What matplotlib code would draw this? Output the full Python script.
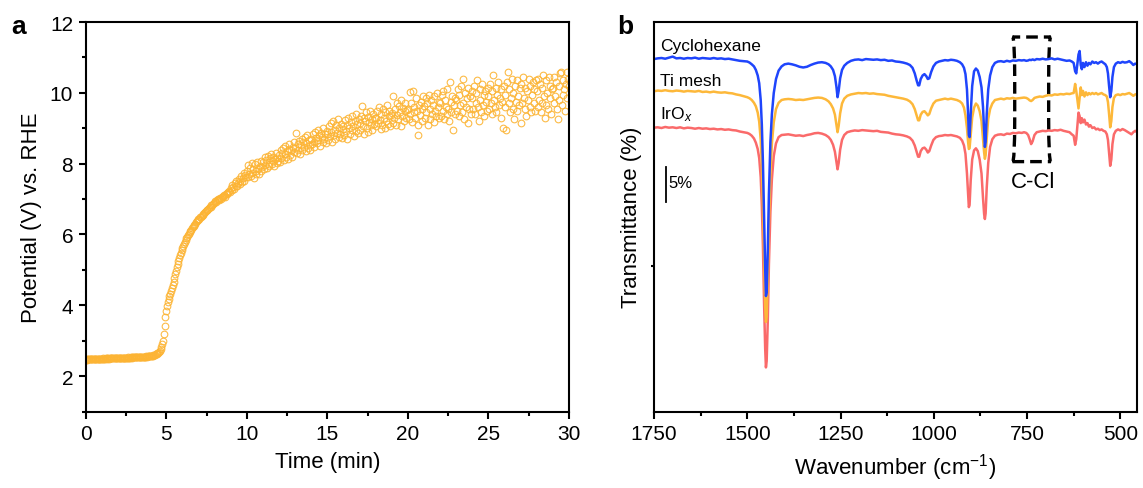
import matplotlib
matplotlib.use("Agg")
import matplotlib.pyplot as plt
import numpy as np
from matplotlib.patches import FancyBboxPatch

plt.rcParams["font.family"] = ["Liberation Sans", "DejaVu Sans"]
plt.rcParams["mathtext.fontset"] = "custom"
plt.rcParams["mathtext.rm"] = "Liberation Sans"
plt.rcParams["mathtext.it"] = "Liberation Sans:italic"

# ---- panel a: potential vs time, one row per minute (0.05 min sampling) ----
time_step_min = 0.05
potential_v = [
    2.46, 2.47, 2.46, 2.48, 2.47, 2.47, 2.48, 2.47, 2.48, 2.48, 2.47, 2.48, 2.49, 2.48, 2.48, 2.49, 2.48, 2.49, 2.49, 2.48,
    2.49, 2.49, 2.50, 2.49, 2.49, 2.50, 2.49, 2.50, 2.50, 2.49, 2.50, 2.50, 2.51, 2.50, 2.50, 2.51, 2.50, 2.51, 2.51, 2.50,
    2.51, 2.51, 2.52, 2.51, 2.51, 2.52, 2.51, 2.52, 2.52, 2.51, 2.52, 2.52, 2.52, 2.53, 2.52, 2.52, 2.53, 2.52, 2.53, 2.53,
    2.53, 2.53, 2.54, 2.53, 2.54, 2.54, 2.53, 2.54, 2.54, 2.55, 2.54, 2.55, 2.55, 2.54, 2.55, 2.56, 2.55, 2.56, 2.56, 2.57,
    2.57, 2.57, 2.58, 2.58, 2.59, 2.60, 2.61, 2.62, 2.63, 2.64, 2.66, 2.68, 2.72, 2.77, 2.83, 2.90, 3.00, 3.18, 3.42, 3.66,
    3.85, 3.98, 4.08, 4.17, 4.25, 4.33, 4.41, 4.49, 4.58, 4.67, 4.77, 4.87, 4.97, 5.07, 5.16, 5.25, 5.33, 5.41, 5.48, 5.55,
    5.62, 5.68, 5.74, 5.79, 5.84, 5.89, 5.94, 5.98, 6.02, 6.06, 6.10, 6.14, 6.18, 6.21, 6.25, 6.28, 6.31, 6.34, 6.37, 6.40,
    6.43, 6.45, 6.48, 6.50, 6.53, 6.56, 6.58, 6.61, 6.63, 6.66, 6.68, 6.70, 6.73, 6.75, 6.77, 6.79, 6.82, 6.84, 6.86, 6.88,
    6.92, 6.95, 6.93, 6.97, 6.99, 6.96, 7.01, 7.03, 7.00, 7.06, 7.05, 7.09, 7.12, 7.07, 7.15, 7.17, 7.13, 7.21, 7.24, 7.19,
    7.32, 7.25, 7.40, 7.33, 7.28, 7.46, 7.38, 7.52, 7.36, 7.45, 7.58, 7.42, 7.50, 7.66, 7.47, 7.60, 7.74, 7.52, 7.68, 7.62,
    7.80, 7.62, 7.95, 7.70, 7.88, 7.66, 8.02, 7.75, 7.84, 7.60, 7.98, 7.78, 7.70, 8.05, 7.85, 7.72, 7.94, 8.08, 7.80, 7.90,
    8.05, 7.85, 8.18, 7.95, 8.10, 7.88, 8.22, 8.00, 7.92, 8.15, 8.28, 7.98, 8.08, 8.20, 7.94, 8.12, 8.30, 8.02, 8.16, 8.08,
    8.25, 8.05, 8.38, 8.15, 8.30, 8.45, 8.10, 8.28, 8.50, 8.20, 8.35, 8.12, 8.42, 8.55, 8.25, 8.38, 8.18, 8.48, 8.32, 8.60,
    8.45, 8.88, 8.30, 8.55, 8.40, 8.65, 8.28, 8.52, 8.70, 8.38, 8.60, 8.48, 8.75, 8.35, 8.58, 8.80, 8.45, 8.66, 8.52, 8.40,
    8.70, 8.55, 8.85, 8.62, 8.48, 8.90, 8.72, 8.58, 8.95, 8.66, 8.80, 8.50, 8.88, 8.75, 8.62, 9.00, 8.70, 8.84, 8.58, 8.92,
    8.85, 8.68, 9.05, 8.78, 9.15, 8.90, 8.62, 9.20, 8.82, 8.95, 8.70, 9.10, 8.88, 9.25, 8.75, 9.02, 8.85, 9.12, 8.72, 8.98,
    9.05, 8.80, 9.22, 8.92, 9.10, 8.70, 9.30, 9.00, 8.85, 9.18, 8.95, 9.35, 9.05, 8.78, 9.20, 9.40, 8.92, 9.12, 8.88, 9.25,
    9.15, 8.95, 9.35, 9.62, 9.05, 9.28, 8.85, 9.20, 9.45, 9.00, 9.32, 8.90, 9.18, 9.50, 9.08, 9.25, 8.95, 9.40, 9.12, 9.30,
    9.30, 9.05, 9.48, 9.15, 9.60, 9.22, 8.98, 9.40, 9.10, 9.55, 9.28, 9.00, 9.45, 9.20, 9.65, 9.12, 9.35, 9.50, 9.05, 9.38,
    9.42, 9.15, 9.90, 9.30, 9.55, 9.10, 9.70, 9.38, 9.25, 9.62, 9.45, 9.05, 9.80, 9.35, 9.58, 9.20, 9.48, 9.72, 9.30, 9.52,
    9.55, 9.25, 10.02, 9.40, 9.70, 9.18, 10.05, 9.45, 9.60, 9.30, 9.85, 9.50, 9.08, 8.80, 9.65, 9.38, 9.75, 9.20, 9.55, 9.90,
    9.62, 9.30, 9.85, 9.45, 9.72, 9.10, 9.95, 9.55, 9.25, 9.80, 9.40, 9.65, 9.18, 9.90, 9.50, 9.35, 10.00, 9.60, 9.28, 9.75,
    9.70, 9.35, 9.95, 9.50, 10.05, 9.25, 9.80, 9.60, 9.40, 10.10, 9.55, 9.20, 10.30, 9.75, 9.45, 9.90, 8.95, 9.65, 9.85, 9.40,
    9.80, 9.50, 10.10, 9.35, 9.95, 9.65, 10.20, 9.45, 10.40, 9.70, 9.25, 10.00, 9.60, 9.85, 9.15, 10.15, 9.55, 9.90, 9.40, 10.05,
    9.85, 9.55, 10.20, 9.40, 10.00, 9.70, 10.35, 9.60, 9.20, 10.10, 9.80, 9.45, 10.25, 9.65, 9.95, 9.35, 10.05, 9.75, 9.50, 10.15,
    9.90, 9.55, 10.25, 9.70, 10.05, 9.40, 10.50, 9.80, 9.60, 10.15, 9.45, 9.95, 10.30, 9.65, 9.85, 9.30, 10.10, 9.75, 9.00, 10.20,
    9.95, 9.60, 8.95, 10.30, 10.60, 9.70, 10.10, 9.45, 9.85, 10.40, 9.55, 10.00, 9.25, 10.20, 9.75, 9.50, 10.35, 9.90, 9.65, 10.15,
    9.15, 10.25, 9.70, 10.45, 9.85, 9.55, 10.15, 9.35, 10.05, 9.80, 10.40, 9.60, 10.20, 9.45, 9.95, 10.30, 9.70, 10.10, 9.50, 10.35,
    10.05, 9.60, 10.40, 9.80, 10.25, 9.45, 10.15, 9.70, 10.50, 9.90, 9.30, 10.35, 9.65, 10.00, 9.55, 10.45, 9.85, 10.20, 9.40, 10.10,
    10.15, 9.70, 10.45, 9.90, 10.30, 9.55, 9.25, 10.20, 9.80, 10.55, 10.60, 9.65, 10.35, 9.95, 10.10, 9.50, 10.25, 10.58, 9.85, 10.40,
    10.20,
]
time_min = np.arange(len(potential_v)) * time_step_min

# ---- panel b: FTIR spectra on a shared wavenumber grid ----
wavenumber = [
    1750, 1740, 1730, 1720, 1710, 1700, 1690, 1680, 1670, 1660, 1650, 1640, 1630,
    1620, 1610, 1600, 1590, 1580, 1570, 1560, 1550, 1540, 1530, 1520, 1510, 1500,
    1494, 1488, 1482, 1477, 1472, 1468, 1464, 1461, 1458, 1455, 1452, 1450, 1448,
    1445, 1442, 1438, 1434, 1429, 1423, 1416, 1408, 1400,
    1390, 1380, 1370, 1360, 1350, 1340, 1330, 1320, 1310, 1300, 1290, 1282,
    1276, 1270, 1265, 1261, 1258, 1255, 1251, 1246, 1240, 1232,
    1222, 1212, 1202, 1192, 1182, 1172, 1162, 1152, 1142, 1132, 1122, 1112, 1102, 1092, 1082, 1072,
    1064, 1057, 1051, 1046, 1042, 1039, 1035, 1030, 1025, 1020, 1016, 1012, 1007, 1001, 994, 986,
    978, 970, 962, 954, 946, 938, 930,
    924, 919, 915, 911, 908, 906, 904, 901, 897, 892, 887, 882, 877, 872, 868, 865, 863, 861, 858, 854, 849, 843, 836,
    828, 820, 812, 804, 796, 788, 780, 772, 764,
    758, 752, 747, 743, 739, 735, 730, 724, 716, 708, 700, 692, 684, 676, 668, 660, 652, 644, 636, 630, 625,
    621, 618, 615, 612, 609, 606, 603, 600, 596, 592, 588, 584, 580, 575, 570, 565, 560, 555, 550, 545, 540,
    536, 533, 530, 527, 524, 521, 517, 512, 506, 500, 494, 488, 482, 476, 470, 465, 460, 455,
]
cyclohexane = [
    50.35, 50.45, 50.5, 50.4, 50.55, 50.7, 50.45, 50.5, 50.4, 50.5, 50.45, 50.55, 50.4,
    50.5, 50.45, 50.4, 50.5, 50.4, 50.45, 50.35, 50.4, 50.3, 50.2, 50.1, 50.05, 50.0,
    49.85, 49.6, 49.3, 48.8, 48.0, 46.9, 44.5, 41.0, 35.5, 28.0, 20.5, 16.5, 17.0,
    23.0, 31.0, 38.5, 42.5, 45.5, 47.5, 48.7, 49.3, 49.6,
    49.7, 49.6, 49.45, 49.25, 49.15, 49.25, 49.5, 49.7, 49.85, 49.9, 49.8, 49.6,
    49.3, 48.8, 47.9, 46.4, 44.9, 45.8, 47.6, 48.8, 49.4, 49.8,
    50.1, 50.25, 50.3, 50.2, 50.35, 50.3, 50.25, 50.3, 50.2, 50.25, 50.1, 50.15, 50.0, 49.95, 49.85, 49.7,
    49.5, 49.1, 48.3, 47.3, 46.6, 46.6, 47.5, 48.0, 48.2, 47.9, 47.5, 47.6, 48.5, 49.3, 49.8, 50.0,
    50.1, 50.2, 50.15, 50.25, 50.2, 50.1, 49.9,
    49.6, 49.1, 48.2, 46.0, 42.5, 39.5, 39.2, 42.5, 46.5, 48.6, 49.0, 48.7, 47.8, 46.3, 43.5, 40.0, 37.8, 38.5, 42.5, 46.0, 48.0, 49.2, 49.8,
    50.0, 50.05, 49.95, 50.1, 50.0, 50.15, 50.1, 50.2, 50.15,
    50.2, 50.1, 50.15, 50.25, 50.2, 50.3, 50.2, 50.35, 50.3, 50.4, 50.3, 50.35, 50.45, 50.3, 50.4, 50.3, 50.2, 50.1, 50.15, 50.0, 49.8,
    48.6, 48.3, 49.6, 51.0, 51.5, 49.5, 48.9, 49.8, 49.2, 49.9, 49.4, 49.8, 49.6, 50.0, 49.8, 49.9, 49.7, 49.9, 50.0, 49.8, 49.6,
    49.2, 48.3, 46.5, 44.9, 45.8, 47.8, 49.2, 49.7, 49.9, 49.8, 49.95, 49.85, 49.9, 50.05, 49.8, 49.5, 49.7, 49.6,
]
ti_mesh = [
    45.75, 45.85, 45.8, 45.9, 45.8, 45.75, 45.85, 45.8, 45.7, 45.8, 45.75, 45.7, 45.8,
    45.65, 45.7, 45.6, 45.7, 45.6, 45.55, 45.6, 45.5, 45.45, 45.3, 45.2, 45.05, 44.9,
    44.75, 44.5, 44.1, 43.6, 42.7, 41.4, 38.8, 35.2, 29.5, 22.0, 15.0, 12.8, 13.5,
    19.5, 27.0, 34.0, 38.3, 41.3, 43.2, 44.1, 44.5, 44.6,
    44.65, 44.6, 44.5, 44.55, 44.5, 44.6, 44.7, 44.8, 44.85, 44.8, 44.6, 44.3,
    43.9, 43.3, 42.4, 41.0, 39.9, 40.8, 42.6, 44.0, 44.7, 45.1,
    45.3, 45.4, 45.5, 45.45, 45.5, 45.4, 45.45, 45.35, 45.3, 45.25, 45.1, 45.0, 44.9, 44.8, 44.7, 44.55,
    44.3, 43.9, 43.2, 42.3, 41.6, 41.6, 42.4, 42.8, 42.9, 42.6, 42.3, 42.5, 43.3, 44.0, 44.4, 44.5,
    44.6, 44.7, 44.6, 44.7, 44.6, 44.5, 44.3,
    44.0, 43.4, 42.3, 40.5, 38.5, 37.5, 37.6, 39.5, 42.0, 43.4, 44.0, 43.7, 42.9, 41.5, 39.0, 37.0, 36.1, 36.6, 39.0, 41.8, 43.2, 44.0, 44.5,
    44.6, 44.7, 44.6, 44.75, 44.7, 44.8, 44.7, 44.75, 44.8,
    44.85, 44.8, 44.65, 44.45, 44.35, 44.5, 44.8, 44.9, 45.0, 44.95, 45.1, 45.2, 45.15, 45.3, 45.25, 45.35, 45.3, 45.4, 45.35, 45.45, 45.5,
    46.8, 45.8, 44.5, 43.3, 44.8, 46.3, 45.2, 45.8, 45.0, 45.6, 45.2, 45.5, 45.3, 45.5, 45.35, 45.5, 45.3, 45.4, 45.5, 45.3, 45.2,
    45.0, 44.2, 42.5, 40.6, 41.5, 43.5, 44.8, 45.2, 45.3, 45.2, 45.35, 45.3, 45.4, 45.5, 45.3, 45.1, 45.3, 45.35,
]
iro_x = [
    40.55, 40.6, 40.5, 40.65, 40.55, 40.6, 40.5, 40.6, 40.45, 40.55, 40.5, 40.4, 40.5,
    40.4, 40.45, 40.35, 40.4, 40.3, 40.35, 40.25, 40.3, 40.2, 40.15, 40.0, 39.9, 39.8,
    39.65, 39.4, 39.0, 38.4, 37.5, 36.2, 33.5, 29.5, 23.5, 15.5, 9.0, 6.3, 7.2,
    13.0, 21.0, 28.5, 33.2, 36.5, 38.3, 39.2, 39.5, 39.55,
    39.6, 39.5, 39.4, 39.45, 39.35, 39.5, 39.6, 39.75, 39.8, 39.7, 39.5, 39.2,
    38.8, 38.1, 37.1, 35.7, 34.6, 35.5, 37.4, 38.8, 39.5, 39.9,
    40.05, 40.15, 40.1, 40.2, 40.15, 40.1, 40.05, 40.1, 39.95, 39.9, 39.85, 39.7, 39.6, 39.55, 39.45, 39.3,
    39.1, 38.7, 38.0, 37.1, 36.4, 36.4, 37.2, 37.6, 37.7, 37.4, 37.0, 37.2, 38.0, 38.8, 39.2, 39.35,
    39.4, 39.5, 39.45, 39.5, 39.4, 39.3, 39.1,
    38.7, 38.0, 36.8, 34.0, 31.0, 29.2, 29.5, 33.0, 36.0, 37.3, 37.6, 37.2, 36.0, 34.0, 30.5, 28.2, 27.5, 28.3, 32.0, 35.5, 37.8, 38.9, 39.4,
    39.55, 39.6, 39.5, 39.7, 39.65, 39.8, 39.75, 39.85, 39.8,
    39.9, 39.8, 39.5, 38.9, 38.2, 38.6, 39.5, 39.9, 40.0, 40.1, 40.05, 40.15, 40.1, 40.2, 40.15, 40.25, 40.1, 40.0, 39.9, 39.6, 39.4,
    38.1, 38.9, 40.8, 42.7, 42.2, 41.2, 41.9, 41.3, 41.7, 41.0, 41.2, 40.7, 40.9, 40.5, 40.6, 40.3, 40.4, 40.2, 40.3, 40.1, 40.0,
    39.6, 38.8, 37.0, 35.1, 36.0, 38.2, 39.6, 40.1, 40.3, 40.15, 40.35, 40.2, 40.0, 39.8, 39.6, 39.9, 40.1, 39.9,
]
assert len(wavenumber) == len(cyclohexane) == len(ti_mesh) == len(iro_x)

series_labels = ["Cyclohexane", "Ti mesh", r"IrO$_{\mathit{x}}$"]
series_colors = ["#1f45fc", "#fdb83a", "#fa6a6a"]

# annotation geometry (data units of panel b)
ccl_box = (692, 783, 35.7, 53.5)      # wn_min, wn_max, T_min, T_max
scale_bar = (1717, 29.9, 34.9)        # wn, T_low, T_high

fig = plt.figure(figsize=(11.43, 4.89), dpi=100)
ax_a = fig.add_axes([0.0750, 0.1564, 0.4228, 0.7965])
ax_b = fig.add_axes([0.5722, 0.1564, 0.4226, 0.7965])

for ax in (ax_a, ax_b):
    for sp in ax.spines.values():
        sp.set_linewidth(1.5)
    ax.tick_params(which="major", direction="out", length=5, width=1.5, labelsize=15, pad=4)
    ax.tick_params(which="minor", direction="out", length=3, width=1.5)

# panel a
ax_a.plot(time_min, potential_v, linestyle="none", marker="o", markersize=4.8,
          markerfacecolor="none", markeredgecolor="#fcb434", markeredgewidth=0.8, alpha=0.9)
ax_a.set_xlim(0, 30)
ax_a.set_ylim(1, 12)
ax_a.set_xticks([0, 5, 10, 15, 20, 25, 30])
ax_a.set_xticks(np.arange(2.5, 30, 5), minor=True)
ax_a.set_yticks([2, 4, 6, 8, 10, 12])
ax_a.set_yticks([1, 3, 5, 7, 9, 11], minor=True)
ax_a.set_xlabel("Time (min)", fontsize=16, labelpad=6)
ax_a.set_ylabel("Potential (V) vs. RHE", fontsize=16, labelpad=6)
fig.text(0.016, 0.945, "a", fontsize=19, fontweight="bold", ha="center", va="center")

# panel b
for vals, col in zip([iro_x, ti_mesh, cyclohexane], series_colors[::-1]):
    ax_b.plot(wavenumber, vals, color=col, linewidth=1.8)
ax_b.set_xlim(1750, 455)
ax_b.set_ylim(0, 55.64)
ax_b.set_xticks([1750, 1500, 1250, 1000, 750, 500])
ax_b.set_xticks([1625, 1375, 1125, 875, 625], minor=True)
ax_b.set_yticks([20.8])
ax_b.set_yticklabels([])
ax_b.tick_params(axis="y", which="major", length=2)
ax_b.set_xlabel("Wavenumber (cm$^{-1}$)", fontsize=16, labelpad=6)
ax_b.set_ylabel("Transmittance (%)", fontsize=16, labelpad=3)
fig.text(0.547, 0.945, "b", fontsize=19, fontweight="bold", ha="center", va="center")

label_T = [52.3, 47.3, 42.5]
for lab, ty in zip(series_labels, label_T):
    ax_b.text(1733, ty, lab, fontsize=12.5, ha="left", va="center")

wn0, wn1, t0, t1 = ccl_box
box = FancyBboxPatch((wn1, t0), wn0 - wn1, t1 - t0,
                     boxstyle="round,pad=0,rounding_size=6", fill=False,
                     edgecolor="black", linewidth=2.4, linestyle=(0, (3.5, 1.8)))
ax_b.add_patch(box)
ax_b.text((wn0 + wn1) / 2 - 3, 32.8, "C-Cl", fontsize=16, ha="center", va="center")

sb_wn, sb_lo, sb_hi = scale_bar
ax_b.plot([sb_wn, sb_wn], [sb_lo, sb_hi], color="black", linewidth=1.3)
ax_b.text(sb_wn - 6, (sb_lo + sb_hi) / 2 + 0.3, "5%", fontsize=12, ha="left", va="center")

fig.savefig("out.png", dpi=100)
